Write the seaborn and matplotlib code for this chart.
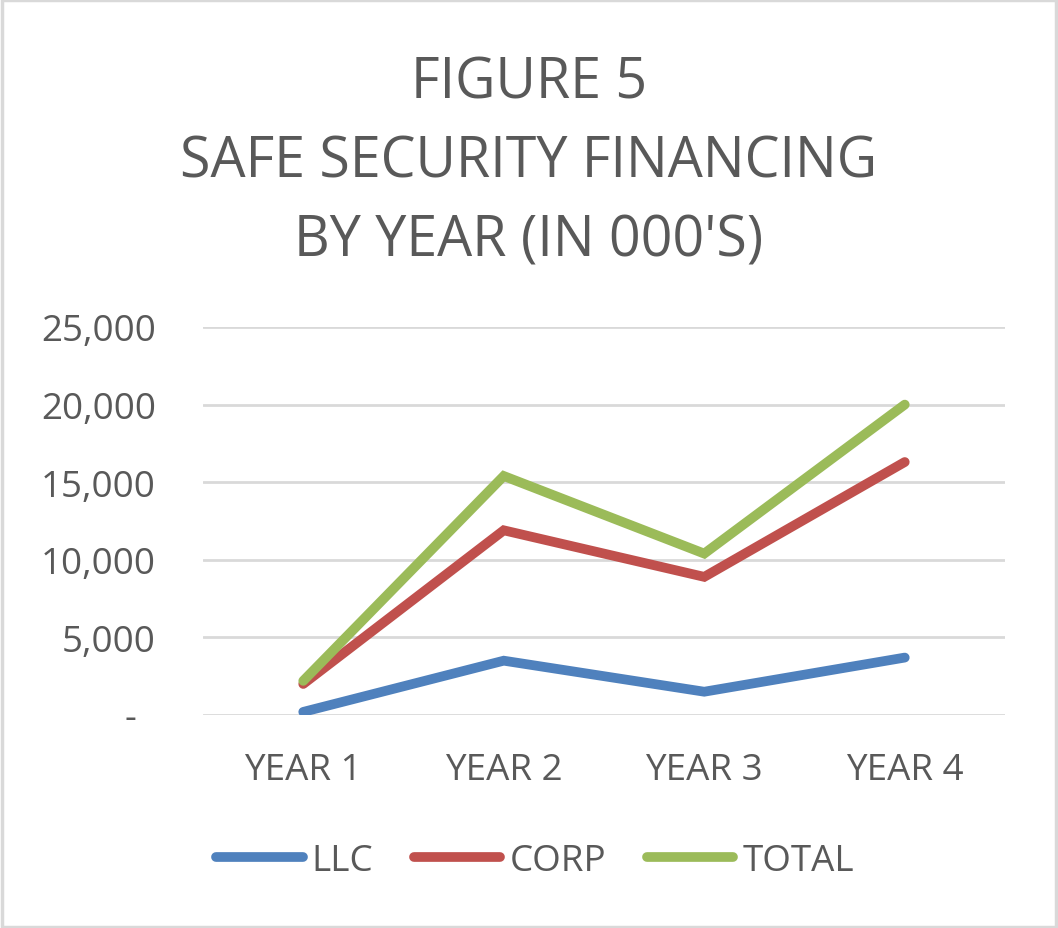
import seaborn as sns
import matplotlib.pyplot as plt
import pandas as pd
from matplotlib.ticker import FuncFormatter

years = ["YEAR 1", "YEAR 2", "YEAR 3", "YEAR 4"]
llc = [200, 3500, 1500, 3700]
corp = [2000, 11900, 8900, 16300]
total = [2200, 15400, 10400, 20000]
series = ["LLC", "CORP", "TOTAL"]
colors = ["#4F81BD", "#C0504D", "#9BBB59"]

ds = pd.DataFrame({
    "year": years * 3,
    "value": llc + corp + total,
    "series": ["LLC"] * 4 + ["CORP"] * 4 + ["TOTAL"] * 4,
})

sns.set_style("white")
plt.rcParams["font.family"] = ["Open Sans", "DejaVu Sans"]
txt = "#595959"

fig = plt.figure(figsize=(10.58, 9.29), dpi=100)
ax = fig.add_axes([203 / 1058, 1 - 716 / 929, 802 / 1058, 388 / 929])

sns.lineplot(data=ds, x="year", y="value", hue="series", hue_order=series,
             palette=colors, linewidth=7, ax=ax, sort=False,
             solid_capstyle="round", solid_joinstyle="miter")

ax.set_xlim(-0.5, 3.5)
ax.set_ylim(0, 25000)
ax.set_yticks(range(0, 25001, 5000))
# accounting style: zero shown as a dash, set in from the right
ax.yaxis.set_major_formatter(FuncFormatter(lambda v, p: "-  " if v == 0 else f"{int(v):,}"))
ax.grid(axis="y", color="#D9D9D9", linewidth=2)
ax.grid(axis="x", visible=False)
for s in ax.spines.values():
    s.set_visible(False)
ax.tick_params(axis="both", length=0, labelsize=26.5, colors=txt)
ax.tick_params(axis="y", pad=34)
ax.tick_params(axis="x", pad=27)
ax.set_xlabel("")
ax.set_ylabel("")

leg = ax.legend(loc="center", bbox_to_anchor=(535 / 1058, 1 - 862 / 929),
                bbox_transform=fig.transFigure, ncol=3, frameon=False,
                fontsize=26.5, handlelength=2.35, handletextpad=0.25,
                columnspacing=1.1, labelcolor=txt)
for h in leg.get_lines():
    h.set_linewidth(7)
    h.set_solid_capstyle("round")

fig.text(0.5, 1 - 163 / 929, "FIGURE 5\nSAFE SECURITY FINANCING\nBY YEAR (IN 000'S)",
         ha="center", va="center", fontsize=40, color=txt, linespacing=1.51)

border = plt.Rectangle((0.0015, 0.0015), 0.997, 0.997, transform=fig.transFigure,
                       fill=False, edgecolor="#D9D9D9", linewidth=2.5)
fig.patches.append(border)

fig.savefig("out.png", dpi=100)
